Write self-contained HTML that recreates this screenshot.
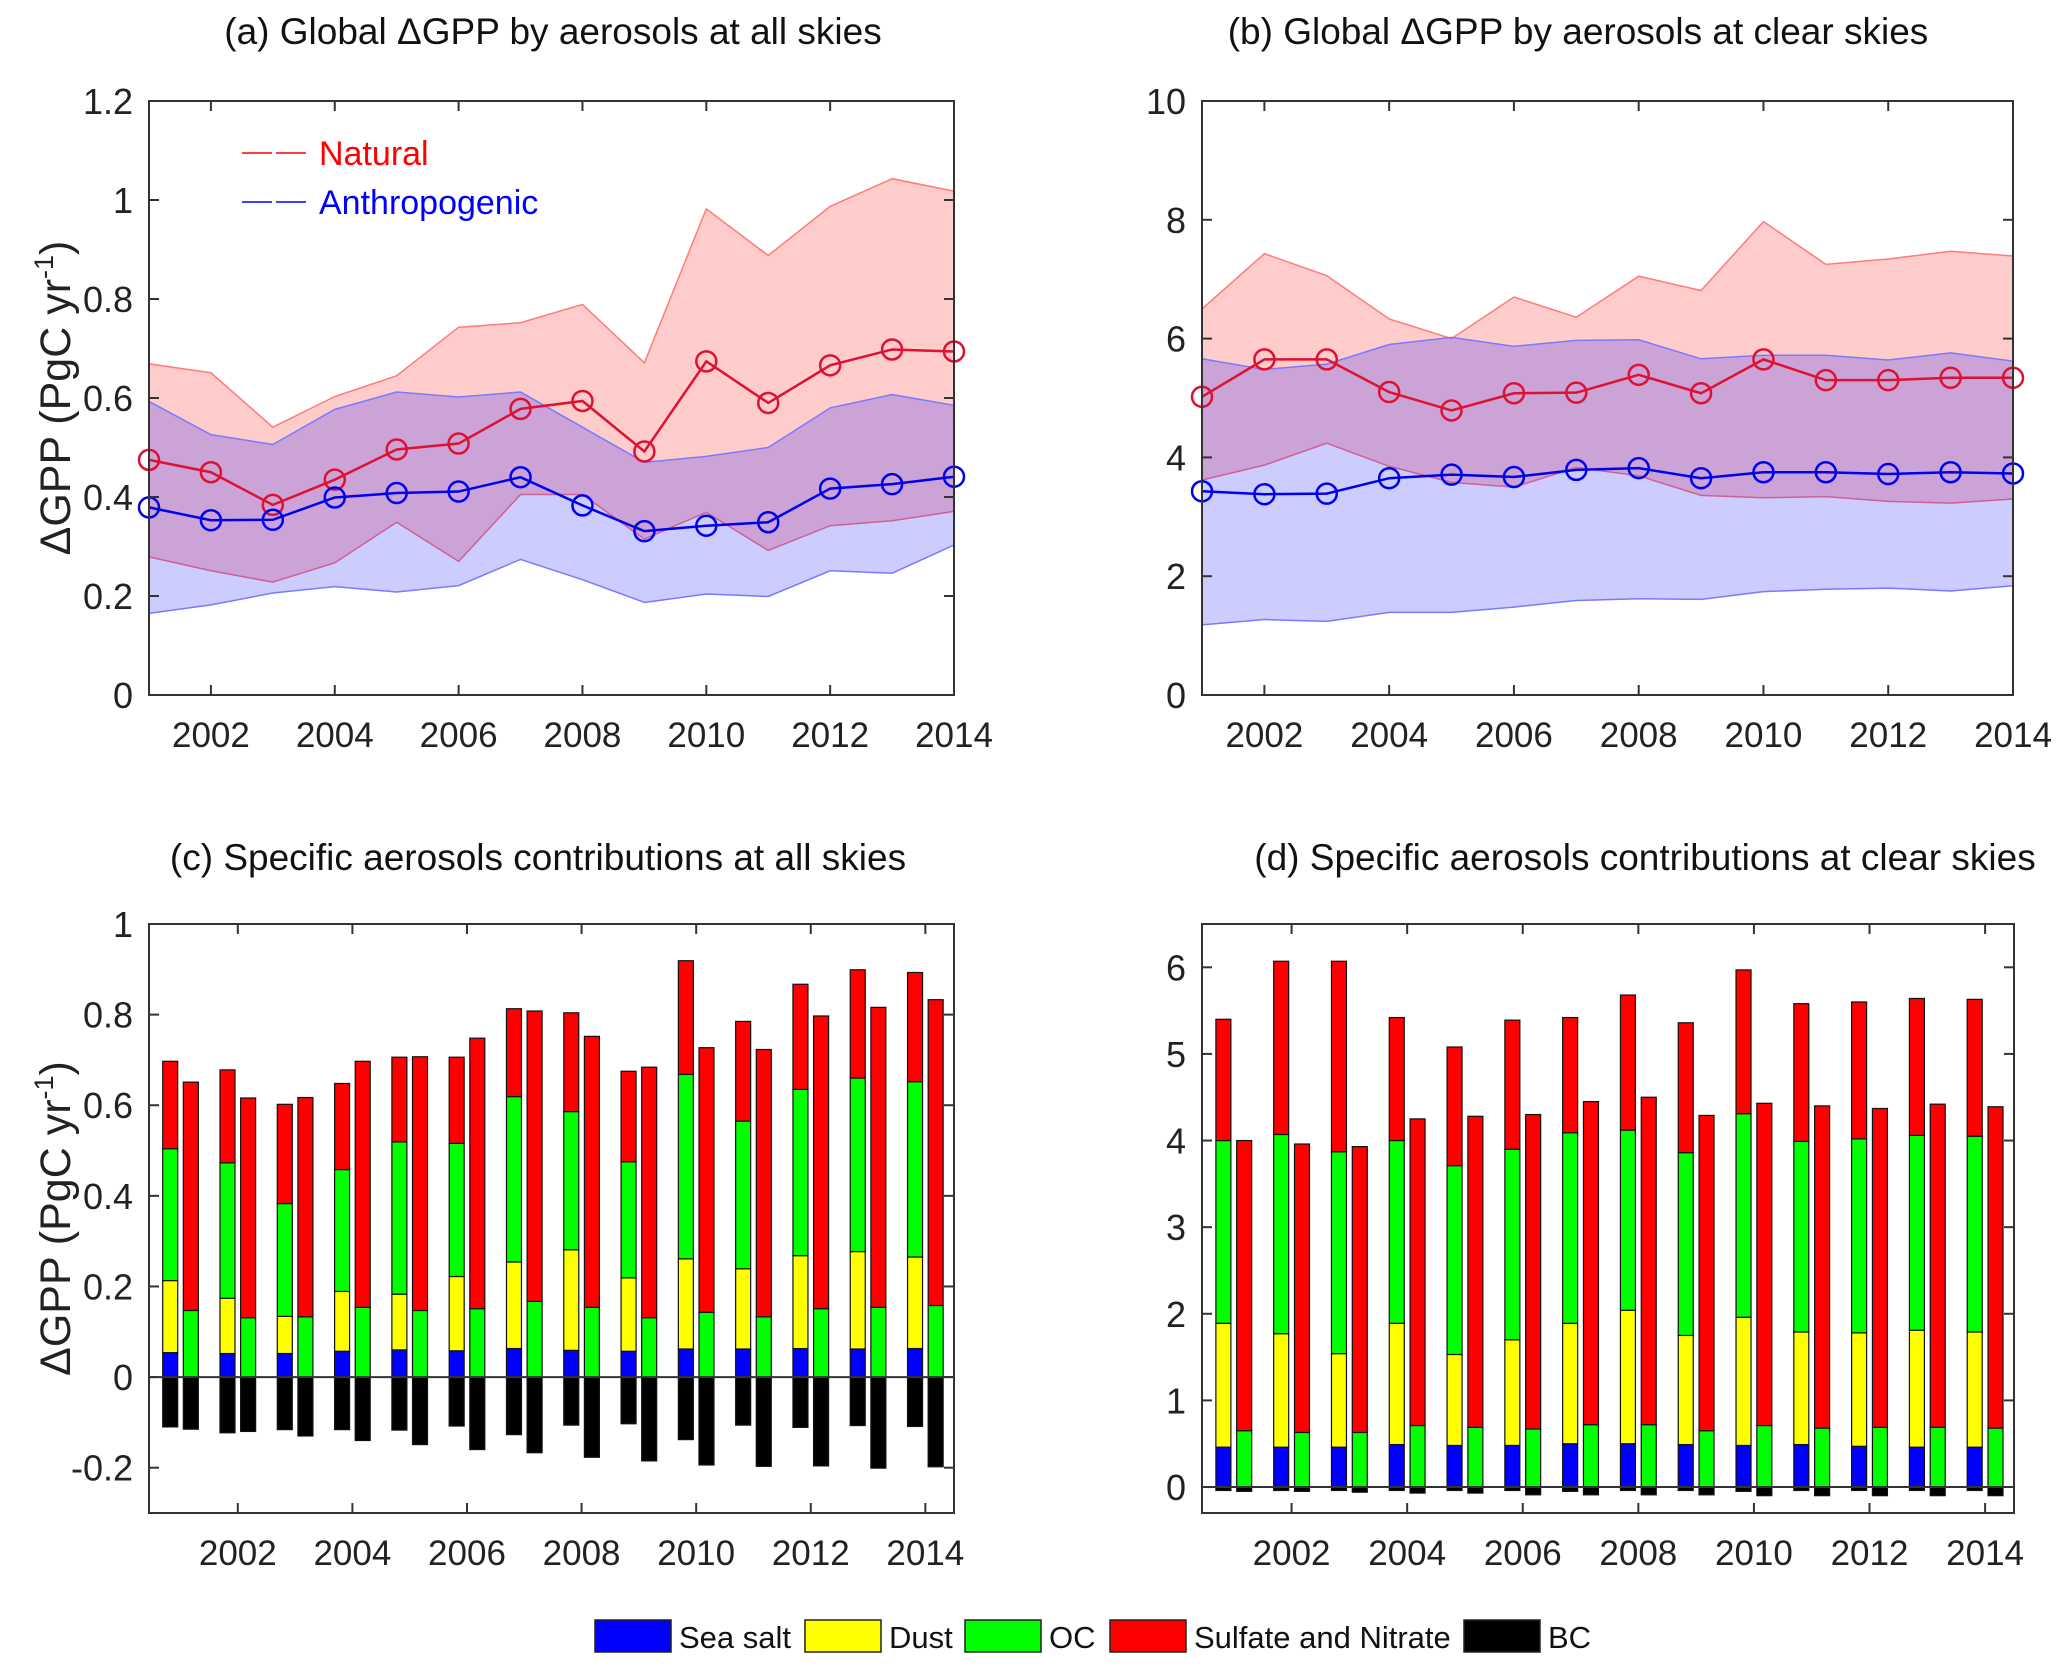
<!DOCTYPE html>
<html><head><meta charset="utf-8"><style>
body{margin:0;background:#fff}
svg{display:block}
text{font-family:"Liberation Sans",sans-serif}
</style></head><body>
<svg id="fig" width="2067" height="1670" viewBox="0 0 2067 1670" xmlns="http://www.w3.org/2000/svg"></svg>
<script>
const years=[2001,2002,2003,2004,2005,2006,2007,2008,2009,2010,2011,2012,2013,2014];
const xTickYears=[2002,2004,2006,2008,2010,2012,2014];
// panel a
const aNatMean=[0.475,0.45,0.384,0.435,0.496,0.508,0.578,0.594,0.492,0.674,0.59,0.666,0.698,0.694];
const aNatUp=[0.669,0.651,0.541,0.603,0.645,0.743,0.752,0.789,0.671,0.982,0.888,0.987,1.043,1.018];
const aNatLo=[0.279,0.251,0.228,0.267,0.349,0.27,0.405,0.405,0.315,0.369,0.292,0.342,0.352,0.371];
const aAntMean=[0.379,0.353,0.354,0.399,0.408,0.411,0.44,0.383,0.331,0.342,0.349,0.417,0.426,0.441];
const aAntUp=[0.593,0.526,0.506,0.577,0.612,0.602,0.612,0.541,0.47,0.482,0.5,0.58,0.607,0.585];
const aAntLo=[0.165,0.182,0.206,0.219,0.208,0.221,0.274,0.233,0.187,0.204,0.199,0.251,0.246,0.303];
const aYTicks=[0,0.2,0.4,0.6,0.8,1,1.2];
const aYLabels=["0","0.2","0.4","0.6","0.8","1","1.2"];
// panel b
const bNatMean=[5.02,5.65,5.65,5.10,4.79,5.08,5.09,5.39,5.08,5.65,5.30,5.30,5.34,5.34];
const bNatUp=[6.5,7.43,7.06,6.33,6.0,6.70,6.36,7.05,6.81,7.97,7.25,7.34,7.47,7.39];
const bNatLo=[3.62,3.87,4.24,3.85,3.58,3.50,3.83,3.69,3.36,3.32,3.34,3.26,3.23,3.30];
const bAntMean=[3.43,3.38,3.39,3.65,3.71,3.67,3.79,3.82,3.65,3.75,3.75,3.72,3.75,3.73];
const bAntUp=[5.66,5.48,5.57,5.90,6.02,5.87,5.97,5.98,5.66,5.72,5.72,5.64,5.76,5.62];
const bAntLo=[1.18,1.27,1.24,1.39,1.39,1.48,1.59,1.62,1.61,1.74,1.78,1.80,1.75,1.84];
const bYTicks=[0,2,4,6,8,10];
const bYLabels=["0","2","4","6","8","10"];
// panel c
const cNatSeaSalt=[.054,.052,.052,.057,.060,.058,.063,.059,.057,.062,.062,.063,.062,.063];
const cNatDust=[.159,.122,.082,.132,.123,.164,.191,.222,.162,.199,.177,.205,.215,.202];
const cNatOC=[.291,.299,.249,.269,.336,.294,.365,.305,.256,.407,.326,.367,.383,.387];
const cNatSulf=[.193,.205,.219,.190,.187,.190,.194,.218,.200,.251,.220,.232,.239,.241];
const cNatBC=[-.110,-.123,-.116,-.116,-.117,-.108,-.127,-.106,-.103,-.138,-.106,-.111,-.107,-.109];
const cAntOC=[.147,.131,.133,.154,.147,.151,.167,.154,.131,.143,.133,.151,.154,.158];
const cAntSulf=[.504,.485,.484,.543,.560,.597,.641,.598,.553,.584,.590,.646,.662,.675];
const cAntBC=[-.115,-.120,-.130,-.140,-.149,-.160,-.167,-.177,-.185,-.194,-.197,-.196,-.201,-.198];
const cYTicks=[-0.2,0,0.2,0.4,0.6,0.8,1];
const cYLabels=["-0.2","0","0.2","0.4","0.6","0.8","1"];
// panel d
const dNatSeaSalt=[.46,.46,.46,.49,.48,.48,.50,.50,.49,.48,.49,.47,.46,.46];
const dNatDust=[1.43,1.31,1.08,1.40,1.05,1.22,1.39,1.54,1.26,1.48,1.30,1.31,1.35,1.33];
const dNatOC=[2.11,2.30,2.33,2.11,2.18,2.20,2.20,2.08,2.11,2.35,2.20,2.24,2.25,2.26];
const dNatSulf=[1.40,2.00,2.20,1.42,1.37,1.49,1.33,1.56,1.50,1.66,1.59,1.58,1.58,1.58];
const dNatBC=[-.04,-.04,-.04,-.04,-.04,-.04,-.05,-.04,-.04,-.05,-.04,-.04,-.04,-.04];
const dAntOC=[.65,.63,.63,.71,.69,.67,.72,.72,.65,.71,.68,.69,.69,.68];
const dAntSulf=[3.35,3.33,3.30,3.54,3.59,3.63,3.73,3.78,3.64,3.72,3.72,3.68,3.73,3.71];
const dAntBC=[-.05,-.05,-.06,-.07,-.07,-.09,-.09,-.09,-.09,-.10,-.10,-.10,-.10,-.10];
const dYTicks=[0,1,2,3,4,5,6];
const dYLabels=["0","1","2","3","4","5","6"];

const NS="http://www.w3.org/2000/svg";
const svg=document.getElementById('fig');
function mk(tag,attrs,parent){const e=document.createElementNS(NS,tag);for(const k in attrs)e.setAttribute(k,attrs[k]);(parent||svg).appendChild(e);return e;}
function txt(s,attrs,parent){if(!attrs.fill)attrs.fill='#222';const t=mk('text',attrs,parent);t.textContent=s;return t;}

function axes(name,L,R,T,B,x0,x1,y0,y1,yt,yl,title,tx,ylab){
  const g=mk('g',{});
  
  
  const X=v=>L+(v-x0)/(x1-x0)*(R-L);
  const Y=v=>B-(v-y0)/(y1-y0)*(B-T);
  return {g,X,Y,finish:()=>{
    const f=mk('g',{},g);
    
    
    mk('rect',{x:L,y:T,width:R-L,height:B-T,fill:'none',stroke:'#333','stroke-width':2},f);
    xTickYears.forEach(yr=>{const x=X(yr);
      mk('line',{x1:x,x2:x,y1:B,y2:B-10,stroke:'#333','stroke-width':2},f);
      mk('line',{x1:x,x2:x,y1:T,y2:T+10,stroke:'#333','stroke-width':2},f);
      const t=txt(String(yr),{x:x,y:B+52,'text-anchor':'middle','font-size':35},f);
      
      
    });
    yt.forEach((v,i)=>{const y=Y(v);
      mk('line',{x1:L,x2:L+10,y1:y,y2:y,stroke:'#333','stroke-width':2},f);
      mk('line',{x1:R,x2:R-10,y1:y,y2:y,stroke:'#333','stroke-width':2},f);
      const t=txt(yl[i],{x:L-16,y:y+13,'text-anchor':'end','font-size':36},f);
      
      
    });
    const tt=txt(title,{x:tx,y:(T<500?44:870),'text-anchor':'middle','font-size':37,fill:'#111'},f);
    
    
    if(ylab){
      const yy=(T+B)/2;
      const t=mk('text',{x:0,y:0,fill:'#222','text-anchor':'middle','font-size':43,transform:`translate(70,${yy}) rotate(-90)`},f);
      
      
      t.innerHTML='ΔGPP (PgC yr<tspan dy="-17" font-size="27">-1</tspan><tspan dy="17">)</tspan>';
    }
  }};
}

function band(ax,up,lo,fill,edge,name){
  let d='M'+years.map((yr,i)=>ax.X(yr)+','+ax.Y(up[i])).join('L');
  d+='L'+years.slice().reverse().map((yr,j)=>{const i=years.length-1-j;return ax.X(yr)+','+ax.Y(lo[i]);}).join('L')+'Z';
  const p=mk('path',{d:d,fill:fill,'fill-opacity':0.2,stroke:'none'},ax.g);
  
  
  [up,lo].forEach(arr=>{
    const l=mk('polyline',{points:years.map((yr,i)=>ax.X(yr)+','+ax.Y(arr[i])).join(' '),fill:'none',stroke:edge,'stroke-width':1.5},ax.g);
    
    
  });
}
function meanLine(ax,arr,color,name){
  const l=mk('polyline',{points:years.map((yr,i)=>ax.X(yr)+','+ax.Y(arr[i])).join(' '),fill:'none',stroke:color,'stroke-width':2.5},ax.g);
  
  
  years.forEach((yr,i)=>{
    const c=mk('circle',{cx:ax.X(yr),cy:ax.Y(arr[i]),r:10,fill:'none',stroke:color,'stroke-width':2.5},ax.g);
    
    
  });
}

// Panel a
const A=axes('panel-a',149,954,101,695,2001,2014,0,1.2,aYTicks,aYLabels,'(a) Global ΔGPP by aerosols at all skies',553,true);
band(A,aNatUp,aNatLo,'#ff0000','#ff7a7a','natural-range');
band(A,aAntUp,aAntLo,'#0000ff','#7a7aff','anthropogenic-range');
meanLine(A,aNatMean,'#dd1133','natural-line');
meanLine(A,aAntMean,'#0000ee','anthropogenic-line');
A.finish();
(function(){
  const lg=mk('g',{});
  
  
  [['Natural','#ff0000',165],['Anthropogenic','#0000ff',214]].forEach(([s,c,y])=>{
    mk('line',{x1:242,x2:310,y1:y-12,y2:y-12,stroke:c,'stroke-width':1.5,'stroke-dasharray':'30 4'},lg);
    const t=txt(s,{x:319,y:y,'font-size':34,fill:c},lg);
    
    
  });
})();

// Panel b
const Bp=axes('panel-b',1202,2013,101,695,2001,2014,0,10,bYTicks,bYLabels,'(b) Global ΔGPP by aerosols at clear skies',1578,false);
band(Bp,bNatUp,bNatLo,'#ff0000','#ff7a7a','natural-range');
band(Bp,bAntUp,bAntLo,'#0000ff','#7a7aff','anthropogenic-range');
meanLine(Bp,bNatMean,'#dd1133','natural-line');
meanLine(Bp,bAntMean,'#0000ee','anthropogenic-line');
Bp.finish();

const COL={sea:'#0000ff',dust:'#ffff00',oc:'#00ff00',sulf:'#ff0000',bc:'#000000'};
function bars(ax,off,w,stacks,neg,name){
  years.forEach((yr,i)=>{
    let base=0;
    const x=ax.X(yr+off)-w/2;
    stacks.forEach(([arr,col,nm])=>{
      const v=arr[i];
      const r=mk('rect',{x:x,y:ax.Y(base+v),width:w,height:ax.Y(base)-ax.Y(base+v),fill:col,stroke:'#111','stroke-width':1.2},ax.g);
      
      
      base+=v;
    });
    const v=neg[i];
    const r=mk('rect',{x:x,y:ax.Y(0),width:w,height:ax.Y(v)-ax.Y(0),fill:'#000',stroke:'#111','stroke-width':1.2},ax.g);
    
    
  });
}
function barPanel(name,L,R,y0,y1,yt,yl,title,tx,ylab,ns,nd,no,nsu,nb,ao,asu,ab){
  const ax=axes(name,L,R,924,1513,2000.45,2014.5,y0,y1,yt,yl,title,tx,ylab);
  bars(ax,-0.18,15,[[ns,COL.sea,'sea-salt'],[nd,COL.dust,'dust'],[no,COL.oc,'oc'],[nsu,COL.sulf,'sulfate']],nb,'natural');
  bars(ax,0.18,15,[[ao,COL.oc,'oc'],[asu,COL.sulf,'sulfate']],ab,'anthropogenic');
  const z=mk('line',{x1:L,x2:R,y1:ax.Y(0),y2:ax.Y(0),stroke:'#333','stroke-width':2},ax.g);
  
  
  ax.finish();
}
barPanel('panel-c',149,954,-0.3,1,cYTicks,cYLabels,'(c) Specific aerosols contributions at all skies',538,true,cNatSeaSalt,cNatDust,cNatOC,cNatSulf,cNatBC,cAntOC,cAntSulf,cAntBC);
barPanel('panel-d',1202,2014,-0.3,6.5,dYTicks,dYLabels,'(d) Specific aerosols contributions at clear skies',1645,false,dNatSeaSalt,dNatDust,dNatOC,dNatSulf,dNatBC,dAntOC,dAntSulf,dAntBC);

// bottom legend
(function(){
  const lg=mk('g',{});
  
  
  [[595,'#0000ff','Sea salt'],[805,'#ffff00','Dust'],[965,'#00ff00','OC'],[1110,'#ff0000','Sulfate and Nitrate'],[1464,'#000000','BC']].forEach(([x,c,s])=>{
    mk('rect',{x:x,y:1620,width:76,height:32,fill:c,stroke:'#222','stroke-width':1.5},lg);
    const t=txt(s,{x:x+84,y:1648,'font-size':31,fill:'#111'},lg);
    
    
  });
})();
</script>
</body></html>
